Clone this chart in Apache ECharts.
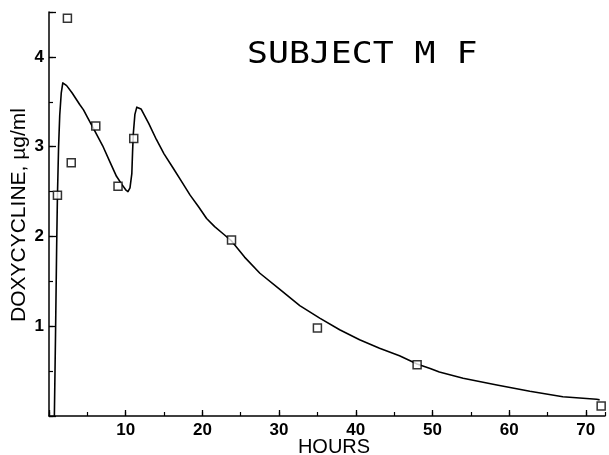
<!DOCTYPE html>
<html>
<head>
<meta charset="utf-8">
<script src="https://cdn.jsdelivr.net/npm/echarts@6/dist/echarts.min.js"></script>
<style>
html,body{margin:0;padding:0;background:#fff;}
#c{width:609px;height:455px;}
</style>
</head>
<body>
<div id="c"></div>
<script>
// ---- data ----
var titleText = 'SUBJECT M F';
var xAxisTitle = 'HOURS';
var yAxisTitle = 'DOXYCYCLINE, \u00b5g/ml';

var curveX = [0.7,0.85,1.0,1.1,1.25,1.4,1.6,1.8,1.95,2.3,3.0,4.0,4.5,5.0,6.0,7.0,8.0,8.8,9.5,10.0,10.3,10.56,10.8,10.9,11.0,11.2,11.45,11.65,12.0,13.0,14.0,15.0,16.2,17.3,18.4,19.5,20.55,21.6,22.7,23.8,25.5,27.5,30.1,32.7,35.3,37.9,40.5,43.1,45.7,48.0,49.7,50.9,54.0,58.4,62.7,67.0,71.4,71.8];
var curveY = [0,0.9,1.9,2.45,3.0,3.35,3.6,3.71,3.73,3.68,3.6,3.47,3.41,3.33,3.17,3.01,2.82,2.67,2.58,2.52,2.50,2.54,2.7,2.95,3.15,3.36,3.44,3.46,3.42,3.26,3.08,2.92,2.76,2.61,2.46,2.33,2.20,2.11,2.03,1.95,1.77,1.59,1.41,1.23,1.09,0.96,0.85,0.755,0.67,0.58,0.53,0.49,0.42,0.345,0.275,0.215,0.186,0.18];

var pointX = [1.1, 2.4, 2.9, 6.1, 9.0, 11.05, 23.8, 35.0, 48.0, 72.0];
var pointY = [2.46, 4.43, 2.82, 3.23, 2.56, 3.09, 1.96, 0.98, 0.57, 0.11];

var xMin = 0, xMax = 72.5, xMajor = 10, xMinor = 5;
var yMin = 0, yMax = 4.5, yMajor = 1, yMinor = 0.5;

// ---- build ----
function zip(a, b){ var r=[]; for (var i=0;i<a.length;i++) r.push([a[i], b[i]]); return r; }

var chart = echarts.init(document.getElementById('c'), null, {renderer:'canvas'});
var labelFont = {color:'#000', fontSize:17, fontWeight:'bold', fontFamily:'Liberation Sans, Arial, sans-serif'};

chart.setOption({
  animation:false,
  backgroundColor:'#fff',
  grid:{left:49, right:4, top:12, bottom:39},
  xAxis:[
    {type:'value', min:xMin, max:xMax, interval:xMajor, position:'bottom',
     axisLine:{show:true, onZero:false, lineStyle:{color:'#000', width:1.5}},
     axisTick:{show:true, inside:true, length:6, lineStyle:{color:'#000', width:1.3}},
     axisLabel:Object.assign({margin:6, showMaxLabel:false, formatter:function(v){return (v>0 && v%10===0)?String(v):'';}}, labelFont),
     splitLine:{show:false}},
    {type:'value', min:xMin, max:xMax, interval:xMinor, position:'bottom',
     axisLine:{show:false}, axisLabel:{show:false}, splitLine:{show:false},
     axisTick:{show:true, inside:true, length:4, lineStyle:{color:'#000', width:1.2}}}
  ],
  yAxis:[
    {type:'value', min:yMin, max:yMax, interval:yMajor, position:'left',
     axisLine:{show:true, onZero:false, lineStyle:{color:'#000', width:1.5}},
     axisTick:{show:true, inside:true, length:7, lineStyle:{color:'#000', width:1.3}},
     axisLabel:Object.assign({margin:5, formatter:function(v){return (v>=1 && v%1===0)?String(v):'';}}, labelFont),
     splitLine:{show:false}},
    {type:'value', min:yMin, max:yMax, interval:yMinor, position:'left',
     axisLine:{show:false}, axisLabel:{show:false}, splitLine:{show:false},
     axisTick:{show:true, inside:true, length:4, lineStyle:{color:'#000', width:1.2}}}
  ],
  series:[
    {type:'line', data:zip(curveX, curveY), xAxisIndex:0, yAxisIndex:0, showSymbol:false, symbol:'none', smooth:false,
     lineStyle:{color:'#000', width:1.6, join:'round'}, z:2},
    {type:'scatter', data:zip(pointX, pointY), xAxisIndex:0, yAxisIndex:0, symbol:'rect', symbolSize:8,
     itemStyle:{color:'#fff', borderColor:'#000', borderWidth:1.5}, z:3}
  ],
  graphic:[
    {type:'text', x:247, y:55, scaleX:1.16, style:{text:titleText, fill:'#000', font:'normal 30px "DejaVu Sans Mono", monospace', textAlign:'left', textVerticalAlign:'middle'}},
    {type:'text', x:334, y:447, style:{text:xAxisTitle, fill:'#000', font:'normal 20px "Liberation Sans", Arial, sans-serif', textAlign:'center', textVerticalAlign:'middle'}},
    {type:'text', x:19, y:215, rotation:Math.PI/2, style:{text:yAxisTitle, fill:'#000', font:'normal 21px "Liberation Sans", Arial, sans-serif', textAlign:'center', textVerticalAlign:'middle'}}
  ]
});
</script>
</body>
</html>
